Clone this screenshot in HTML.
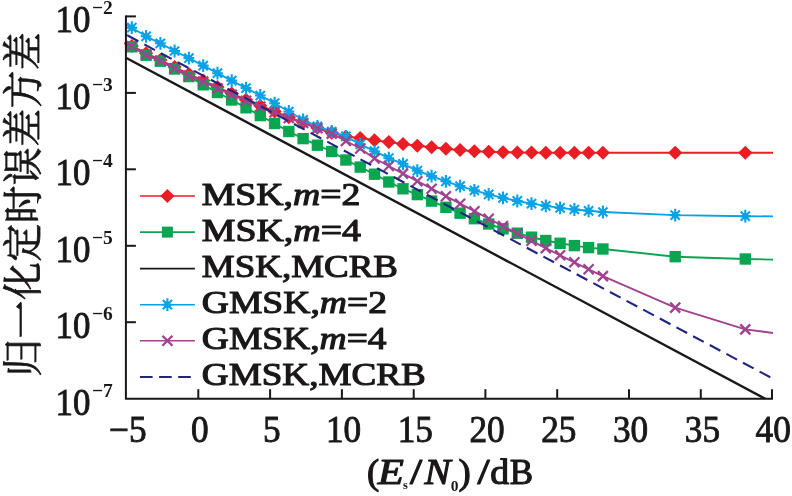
<!DOCTYPE html>
<html><head><meta charset="utf-8"><title>chart</title><style>html,body{margin:0;padding:0;background:#fff}svg{display:block}</style></head><body>
<svg width="792" height="496" viewBox="0 0 792 496">
<rect width="792" height="496" fill="#fff"/>
<defs><clipPath id="cp"><rect x="121.9" y="0" width="652.1" height="399.7"/></clipPath></defs>
<g clip-path="url(#cp)" stroke-linejoin="round">
<path d="M124.2,43.2 L131.8,46.0 L146.1,53.2 L160.4,60.0 L174.6,67.0 L188.9,74.0 L203.2,80.5 L217.5,87.1 L231.7,93.5 L246.0,99.7 L260.3,105.7 L274.6,111.5 L288.8,117.2 L303.1,122.6 L317.4,127.8 L331.7,132.8 L345.9,136.6 L360.2,138.0 L374.5,140.2 L388.8,142.1 L403.0,144.0 L417.3,145.7 L431.6,147.3 L445.9,148.8 L460.1,150.1 L474.4,151.2 L488.7,151.8 L503.0,152.2 L517.3,152.5 L531.5,152.6 L545.8,152.7 L560.1,152.7 L574.4,152.8 L588.6,152.8 L602.9,152.8 L675.2,152.8 L745.3,152.8 L773.0,152.8" stroke="#ea1c24" stroke-width="1.9" fill="none"/>
<path d="M124.7,46.0 L131.8,39.0 L138.9,46.0 L131.8,53.0Z" fill="#ea1c24"/>
<path d="M139.0,53.2 L146.1,46.2 L153.2,53.2 L146.1,60.2Z" fill="#ea1c24"/>
<path d="M153.3,60.0 L160.4,53.0 L167.5,60.0 L160.4,67.0Z" fill="#ea1c24"/>
<path d="M167.5,67.0 L174.6,60.0 L181.7,67.0 L174.6,74.0Z" fill="#ea1c24"/>
<path d="M181.8,74.0 L188.9,67.0 L196.0,74.0 L188.9,81.0Z" fill="#ea1c24"/>
<path d="M196.1,80.5 L203.2,73.5 L210.3,80.5 L203.2,87.5Z" fill="#ea1c24"/>
<path d="M210.4,87.1 L217.5,80.1 L224.6,87.1 L217.5,94.1Z" fill="#ea1c24"/>
<path d="M224.6,93.5 L231.7,86.5 L238.8,93.5 L231.7,100.5Z" fill="#ea1c24"/>
<path d="M238.9,99.7 L246.0,92.7 L253.1,99.7 L246.0,106.7Z" fill="#ea1c24"/>
<path d="M253.2,105.7 L260.3,98.7 L267.4,105.7 L260.3,112.7Z" fill="#ea1c24"/>
<path d="M267.5,111.5 L274.6,104.5 L281.7,111.5 L274.6,118.5Z" fill="#ea1c24"/>
<path d="M281.7,117.2 L288.8,110.2 L295.9,117.2 L288.8,124.2Z" fill="#ea1c24"/>
<path d="M296.0,122.6 L303.1,115.6 L310.2,122.6 L303.1,129.6Z" fill="#ea1c24"/>
<path d="M310.3,127.8 L317.4,120.8 L324.5,127.8 L317.4,134.8Z" fill="#ea1c24"/>
<path d="M324.6,132.8 L331.7,125.8 L338.8,132.8 L331.7,139.8Z" fill="#ea1c24"/>
<path d="M338.8,136.6 L345.9,129.6 L353.0,136.6 L345.9,143.6Z" fill="#ea1c24"/>
<path d="M353.1,138.0 L360.2,131.0 L367.3,138.0 L360.2,145.0Z" fill="#ea1c24"/>
<path d="M367.4,140.2 L374.5,133.2 L381.6,140.2 L374.5,147.2Z" fill="#ea1c24"/>
<path d="M381.7,142.1 L388.8,135.1 L395.9,142.1 L388.8,149.1Z" fill="#ea1c24"/>
<path d="M395.9,144.0 L403.0,137.0 L410.1,144.0 L403.0,151.0Z" fill="#ea1c24"/>
<path d="M410.2,145.7 L417.3,138.7 L424.4,145.7 L417.3,152.7Z" fill="#ea1c24"/>
<path d="M424.5,147.3 L431.6,140.3 L438.7,147.3 L431.6,154.3Z" fill="#ea1c24"/>
<path d="M438.8,148.8 L445.9,141.8 L453.0,148.8 L445.9,155.8Z" fill="#ea1c24"/>
<path d="M453.0,150.1 L460.1,143.1 L467.2,150.1 L460.1,157.1Z" fill="#ea1c24"/>
<path d="M467.3,151.2 L474.4,144.2 L481.5,151.2 L474.4,158.2Z" fill="#ea1c24"/>
<path d="M481.6,151.8 L488.7,144.8 L495.8,151.8 L488.7,158.8Z" fill="#ea1c24"/>
<path d="M495.9,152.2 L503.0,145.2 L510.1,152.2 L503.0,159.2Z" fill="#ea1c24"/>
<path d="M510.2,152.5 L517.3,145.5 L524.4,152.5 L517.3,159.5Z" fill="#ea1c24"/>
<path d="M524.4,152.6 L531.5,145.6 L538.6,152.6 L531.5,159.6Z" fill="#ea1c24"/>
<path d="M538.7,152.7 L545.8,145.7 L552.9,152.7 L545.8,159.7Z" fill="#ea1c24"/>
<path d="M553.0,152.7 L560.1,145.7 L567.2,152.7 L560.1,159.7Z" fill="#ea1c24"/>
<path d="M567.3,152.8 L574.4,145.8 L581.5,152.8 L574.4,159.8Z" fill="#ea1c24"/>
<path d="M581.5,152.8 L588.6,145.8 L595.7,152.8 L588.6,159.8Z" fill="#ea1c24"/>
<path d="M595.8,152.8 L602.9,145.8 L610.0,152.8 L602.9,159.8Z" fill="#ea1c24"/>
<path d="M668.1,152.8 L675.2,145.8 L682.3,152.8 L675.2,159.8Z" fill="#ea1c24"/>
<path d="M738.2,152.8 L745.3,145.8 L752.4,152.8 L745.3,159.8Z" fill="#ea1c24"/>
<path d="M125.9,43.8 L131.8,46.8 L146.1,55.2 L160.4,61.2 L174.6,69.0 L188.9,76.6 L203.2,84.8 L217.5,92.5 L231.7,100.0 L246.0,107.8 L260.3,115.6 L274.6,123.5 L288.8,131.5 L303.1,138.6 L317.4,145.2 L331.7,151.5 L345.9,160.0 L360.2,167.1 L374.5,174.2 L388.8,182.0 L403.0,188.8 L417.3,194.6 L431.6,201.1 L445.9,207.3 L460.1,213.2 L474.4,218.7 L488.7,224.0 L503.0,228.8 L517.3,233.2 L531.5,237.2 L545.8,240.5 L560.1,243.3 L574.4,245.6 L588.6,247.6 L602.9,249.0 L675.2,256.7 L745.3,259.0 L773.0,259.6" stroke="#0aa550" stroke-width="1.9" fill="none"/>
<rect x="126.1" y="41.1" width="11.4" height="11.4" fill="#0aa550"/>
<rect x="140.4" y="49.5" width="11.4" height="11.4" fill="#0aa550"/>
<rect x="154.7" y="55.5" width="11.4" height="11.4" fill="#0aa550"/>
<rect x="168.9" y="63.3" width="11.4" height="11.4" fill="#0aa550"/>
<rect x="183.2" y="70.9" width="11.4" height="11.4" fill="#0aa550"/>
<rect x="197.5" y="79.1" width="11.4" height="11.4" fill="#0aa550"/>
<rect x="211.8" y="86.8" width="11.4" height="11.4" fill="#0aa550"/>
<rect x="226.0" y="94.3" width="11.4" height="11.4" fill="#0aa550"/>
<rect x="240.3" y="102.1" width="11.4" height="11.4" fill="#0aa550"/>
<rect x="254.6" y="109.9" width="11.4" height="11.4" fill="#0aa550"/>
<rect x="268.9" y="117.8" width="11.4" height="11.4" fill="#0aa550"/>
<rect x="283.1" y="125.8" width="11.4" height="11.4" fill="#0aa550"/>
<rect x="297.4" y="132.9" width="11.4" height="11.4" fill="#0aa550"/>
<rect x="311.7" y="139.5" width="11.4" height="11.4" fill="#0aa550"/>
<rect x="326.0" y="145.8" width="11.4" height="11.4" fill="#0aa550"/>
<rect x="340.2" y="154.3" width="11.4" height="11.4" fill="#0aa550"/>
<rect x="354.5" y="161.4" width="11.4" height="11.4" fill="#0aa550"/>
<rect x="368.8" y="168.5" width="11.4" height="11.4" fill="#0aa550"/>
<rect x="383.1" y="176.3" width="11.4" height="11.4" fill="#0aa550"/>
<rect x="397.3" y="183.1" width="11.4" height="11.4" fill="#0aa550"/>
<rect x="411.6" y="188.9" width="11.4" height="11.4" fill="#0aa550"/>
<rect x="425.9" y="195.4" width="11.4" height="11.4" fill="#0aa550"/>
<rect x="440.2" y="201.6" width="11.4" height="11.4" fill="#0aa550"/>
<rect x="454.4" y="207.5" width="11.4" height="11.4" fill="#0aa550"/>
<rect x="468.7" y="213.0" width="11.4" height="11.4" fill="#0aa550"/>
<rect x="483.0" y="218.3" width="11.4" height="11.4" fill="#0aa550"/>
<rect x="497.3" y="223.1" width="11.4" height="11.4" fill="#0aa550"/>
<rect x="511.6" y="227.5" width="11.4" height="11.4" fill="#0aa550"/>
<rect x="525.8" y="231.5" width="11.4" height="11.4" fill="#0aa550"/>
<rect x="540.1" y="234.8" width="11.4" height="11.4" fill="#0aa550"/>
<rect x="554.4" y="237.6" width="11.4" height="11.4" fill="#0aa550"/>
<rect x="568.7" y="239.9" width="11.4" height="11.4" fill="#0aa550"/>
<rect x="582.9" y="241.9" width="11.4" height="11.4" fill="#0aa550"/>
<rect x="597.2" y="243.3" width="11.4" height="11.4" fill="#0aa550"/>
<rect x="669.5" y="251.0" width="11.4" height="11.4" fill="#0aa550"/>
<rect x="739.6" y="253.3" width="11.4" height="11.4" fill="#0aa550"/>
<path d="M125.9,57.7 L765.2,398.7" stroke="#1a1718" stroke-width="2.4" fill="none"/>
<path d="M125.9,24.6 L131.8,27.7 L146.1,36.3 L160.4,43.3 L174.6,51.0 L188.9,58.1 L203.2,65.6 L217.5,73.2 L231.7,80.6 L246.0,88.1 L260.3,95.5 L274.6,103.2 L288.8,111.5 L303.1,119.8 L317.4,126.4 L331.7,131.5 L345.9,136.3 L360.2,144.3 L374.5,151.2 L388.8,158.2 L403.0,163.8 L417.3,170.6 L431.6,176.1 L445.9,181.3 L460.1,186.1 L474.4,190.4 L488.7,194.4 L503.0,197.9 L517.3,201.0 L531.5,203.6 L545.8,205.9 L560.1,207.9 L574.4,209.5 L588.6,210.8 L602.9,212.0 L675.2,215.1 L745.3,216.2 L773.0,216.4" stroke="#0aa2e6" stroke-width="1.9" fill="none"/>
<path d="M126.4,27.7H137.2M131.8,21.3V34.1M127.2,23.1L136.4,32.3M127.2,32.3L136.4,23.1" stroke="#0aa2e6" stroke-width="2.1" fill="none"/><circle cx="131.8" cy="27.7" r="3.1" fill="#0aa2e6"/>
<path d="M140.7,36.3H151.5M146.1,29.9V42.7M141.5,31.7L150.7,40.9M141.5,40.9L150.7,31.7" stroke="#0aa2e6" stroke-width="2.1" fill="none"/><circle cx="146.1" cy="36.3" r="3.1" fill="#0aa2e6"/>
<path d="M155.0,43.3H165.8M160.4,36.9V49.7M155.7,38.7L165.0,47.9M155.7,47.9L165.0,38.7" stroke="#0aa2e6" stroke-width="2.1" fill="none"/><circle cx="160.4" cy="43.3" r="3.1" fill="#0aa2e6"/>
<path d="M169.2,51.0H180.0M174.6,44.6V57.4M170.0,46.4L179.2,55.6M170.0,55.6L179.2,46.4" stroke="#0aa2e6" stroke-width="2.1" fill="none"/><circle cx="174.6" cy="51.0" r="3.1" fill="#0aa2e6"/>
<path d="M183.5,58.1H194.3M188.9,51.7V64.5M184.3,53.5L193.5,62.7M184.3,62.7L193.5,53.5" stroke="#0aa2e6" stroke-width="2.1" fill="none"/><circle cx="188.9" cy="58.1" r="3.1" fill="#0aa2e6"/>
<path d="M197.8,65.6H208.6M203.2,59.2V72.0M198.6,61.0L207.8,70.2M198.6,70.2L207.8,61.0" stroke="#0aa2e6" stroke-width="2.1" fill="none"/><circle cx="203.2" cy="65.6" r="3.1" fill="#0aa2e6"/>
<path d="M212.1,73.2H222.9M217.5,66.8V79.6M212.8,68.6L222.1,77.8M212.8,77.8L222.1,68.6" stroke="#0aa2e6" stroke-width="2.1" fill="none"/><circle cx="217.5" cy="73.2" r="3.1" fill="#0aa2e6"/>
<path d="M226.3,80.6H237.1M231.7,74.2V87.0M227.1,76.0L236.3,85.2M227.1,85.2L236.3,76.0" stroke="#0aa2e6" stroke-width="2.1" fill="none"/><circle cx="231.7" cy="80.6" r="3.1" fill="#0aa2e6"/>
<path d="M240.6,88.1H251.4M246.0,81.7V94.5M241.4,83.5L250.6,92.7M241.4,92.7L250.6,83.5" stroke="#0aa2e6" stroke-width="2.1" fill="none"/><circle cx="246.0" cy="88.1" r="3.1" fill="#0aa2e6"/>
<path d="M254.9,95.5H265.7M260.3,89.1V101.9M255.7,90.9L264.9,100.1M255.7,100.1L264.9,90.9" stroke="#0aa2e6" stroke-width="2.1" fill="none"/><circle cx="260.3" cy="95.5" r="3.1" fill="#0aa2e6"/>
<path d="M269.2,103.2H280.0M274.6,96.8V109.6M270.0,98.6L279.2,107.8M270.0,107.8L279.2,98.6" stroke="#0aa2e6" stroke-width="2.1" fill="none"/><circle cx="274.6" cy="103.2" r="3.1" fill="#0aa2e6"/>
<path d="M283.4,111.5H294.2M288.8,105.1V117.9M284.2,106.9L293.4,116.1M284.2,116.1L293.4,106.9" stroke="#0aa2e6" stroke-width="2.1" fill="none"/><circle cx="288.8" cy="111.5" r="3.1" fill="#0aa2e6"/>
<path d="M297.7,119.8H308.5M303.1,113.4V126.2M298.5,115.2L307.7,124.4M298.5,124.4L307.7,115.2" stroke="#0aa2e6" stroke-width="2.1" fill="none"/><circle cx="303.1" cy="119.8" r="3.1" fill="#0aa2e6"/>
<path d="M312.0,126.4H322.8M317.4,120.0V132.8M312.8,121.8L322.0,131.0M312.8,131.0L322.0,121.8" stroke="#0aa2e6" stroke-width="2.1" fill="none"/><circle cx="317.4" cy="126.4" r="3.1" fill="#0aa2e6"/>
<path d="M326.3,131.5H337.1M331.7,125.1V137.9M327.1,126.9L336.3,136.1M327.1,136.1L336.3,126.9" stroke="#0aa2e6" stroke-width="2.1" fill="none"/><circle cx="331.7" cy="131.5" r="3.1" fill="#0aa2e6"/>
<path d="M340.5,136.3H351.3M345.9,129.9V142.7M341.3,131.7L350.5,140.9M341.3,140.9L350.5,131.7" stroke="#0aa2e6" stroke-width="2.1" fill="none"/><circle cx="345.9" cy="136.3" r="3.1" fill="#0aa2e6"/>
<path d="M354.8,144.3H365.6M360.2,137.9V150.7M355.6,139.7L364.8,148.9M355.6,148.9L364.8,139.7" stroke="#0aa2e6" stroke-width="2.1" fill="none"/><circle cx="360.2" cy="144.3" r="3.1" fill="#0aa2e6"/>
<path d="M369.1,151.2H379.9M374.5,144.8V157.6M369.9,146.6L379.1,155.8M369.9,155.8L379.1,146.6" stroke="#0aa2e6" stroke-width="2.1" fill="none"/><circle cx="374.5" cy="151.2" r="3.1" fill="#0aa2e6"/>
<path d="M383.4,158.2H394.2M388.8,151.8V164.6M384.2,153.6L393.4,162.8M384.2,162.8L393.4,153.6" stroke="#0aa2e6" stroke-width="2.1" fill="none"/><circle cx="388.8" cy="158.2" r="3.1" fill="#0aa2e6"/>
<path d="M397.6,163.8H408.4M403.0,157.4V170.2M398.4,159.2L407.7,168.4M398.4,168.4L407.7,159.2" stroke="#0aa2e6" stroke-width="2.1" fill="none"/><circle cx="403.0" cy="163.8" r="3.1" fill="#0aa2e6"/>
<path d="M411.9,170.6H422.7M417.3,164.2V177.0M412.7,165.9L421.9,175.2M412.7,175.2L421.9,165.9" stroke="#0aa2e6" stroke-width="2.1" fill="none"/><circle cx="417.3" cy="170.6" r="3.1" fill="#0aa2e6"/>
<path d="M426.2,176.1H437.0M431.6,169.7V182.5M427.0,171.5L436.2,180.7M427.0,180.7L436.2,171.5" stroke="#0aa2e6" stroke-width="2.1" fill="none"/><circle cx="431.6" cy="176.1" r="3.1" fill="#0aa2e6"/>
<path d="M440.5,181.3H451.3M445.9,174.9V187.7M441.3,176.7L450.5,185.9M441.3,185.9L450.5,176.7" stroke="#0aa2e6" stroke-width="2.1" fill="none"/><circle cx="445.9" cy="181.3" r="3.1" fill="#0aa2e6"/>
<path d="M454.7,186.1H465.5M460.1,179.7V192.5M455.5,181.5L464.8,190.7M455.5,190.7L464.8,181.5" stroke="#0aa2e6" stroke-width="2.1" fill="none"/><circle cx="460.1" cy="186.1" r="3.1" fill="#0aa2e6"/>
<path d="M469.0,190.4H479.8M474.4,184.0V196.8M469.8,185.8L479.0,195.0M469.8,195.0L479.0,185.8" stroke="#0aa2e6" stroke-width="2.1" fill="none"/><circle cx="474.4" cy="190.4" r="3.1" fill="#0aa2e6"/>
<path d="M483.3,194.4H494.1M488.7,188.0V200.8M484.1,189.8L493.3,199.0M484.1,199.0L493.3,189.8" stroke="#0aa2e6" stroke-width="2.1" fill="none"/><circle cx="488.7" cy="194.4" r="3.1" fill="#0aa2e6"/>
<path d="M497.6,197.9H508.4M503.0,191.5V204.3M498.4,193.3L507.6,202.5M498.4,202.5L507.6,193.3" stroke="#0aa2e6" stroke-width="2.1" fill="none"/><circle cx="503.0" cy="197.9" r="3.1" fill="#0aa2e6"/>
<path d="M511.9,201.0H522.7M517.3,194.6V207.4M512.6,196.3L521.9,205.6M512.6,205.6L521.9,196.3" stroke="#0aa2e6" stroke-width="2.1" fill="none"/><circle cx="517.3" cy="201.0" r="3.1" fill="#0aa2e6"/>
<path d="M526.1,203.6H536.9M531.5,197.2V210.0M526.9,199.0L536.1,208.2M526.9,208.2L536.1,199.0" stroke="#0aa2e6" stroke-width="2.1" fill="none"/><circle cx="531.5" cy="203.6" r="3.1" fill="#0aa2e6"/>
<path d="M540.4,205.9H551.2M545.8,199.5V212.3M541.2,201.3L550.4,210.5M541.2,210.5L550.4,201.3" stroke="#0aa2e6" stroke-width="2.1" fill="none"/><circle cx="545.8" cy="205.9" r="3.1" fill="#0aa2e6"/>
<path d="M554.7,207.9H565.5M560.1,201.5V214.3M555.5,203.2L564.7,212.5M555.5,212.5L564.7,203.2" stroke="#0aa2e6" stroke-width="2.1" fill="none"/><circle cx="560.1" cy="207.9" r="3.1" fill="#0aa2e6"/>
<path d="M569.0,209.5H579.8M574.4,203.1V215.9M569.7,204.9L579.0,214.1M569.7,214.1L579.0,204.9" stroke="#0aa2e6" stroke-width="2.1" fill="none"/><circle cx="574.4" cy="209.5" r="3.1" fill="#0aa2e6"/>
<path d="M583.2,210.8H594.0M588.6,204.4V217.2M584.0,206.2L593.2,215.5M584.0,215.5L593.2,206.2" stroke="#0aa2e6" stroke-width="2.1" fill="none"/><circle cx="588.6" cy="210.8" r="3.1" fill="#0aa2e6"/>
<path d="M597.5,212.0H608.3M602.9,205.6V218.4M598.3,207.4L607.5,216.6M598.3,216.6L607.5,207.4" stroke="#0aa2e6" stroke-width="2.1" fill="none"/><circle cx="602.9" cy="212.0" r="3.1" fill="#0aa2e6"/>
<path d="M669.8,215.1H680.6M675.2,208.7V221.5M670.6,210.5L679.8,219.8M670.6,219.8L679.8,210.5" stroke="#0aa2e6" stroke-width="2.1" fill="none"/><circle cx="675.2" cy="215.1" r="3.1" fill="#0aa2e6"/>
<path d="M739.9,216.2H750.7M745.3,209.8V222.6M740.7,211.6L749.9,220.8M740.7,220.8L749.9,211.6" stroke="#0aa2e6" stroke-width="2.1" fill="none"/><circle cx="745.3" cy="216.2" r="3.1" fill="#0aa2e6"/>
<path d="M125.9,43.3 L131.8,46.3 L146.1,54.8 L160.4,60.7 L174.6,68.3 L188.9,75.8 L203.2,81.6 L217.5,88.5 L231.7,94.8 L246.0,100.7 L260.3,106.8 L274.6,112.3 L288.8,118.0 L303.1,123.0 L317.4,128.2 L331.7,133.6 L345.9,141.0 L360.2,148.5 L374.5,158.5 L388.8,166.0 L403.0,173.6 L417.3,181.2 L431.6,188.7 L445.9,196.2 L460.1,203.7 L474.4,211.2 L488.7,218.7 L503.0,226.1 L517.3,233.5 L531.5,240.8 L545.8,248.1 L560.1,255.3 L574.4,262.3 L588.6,269.3 L602.9,276.1 L675.2,307.6 L745.3,329.4 L773.0,333.0" stroke="#a0428f" stroke-width="1.9" fill="none"/>
<path d="M126.8,41.3L136.8,51.3M126.8,51.3L136.8,41.3" stroke="#a0428f" stroke-width="2.3" fill="none"/>
<path d="M141.1,49.8L151.1,59.8M141.1,59.8L151.1,49.8" stroke="#a0428f" stroke-width="2.3" fill="none"/>
<path d="M155.4,55.7L165.4,65.7M155.4,65.7L165.4,55.7" stroke="#a0428f" stroke-width="2.3" fill="none"/>
<path d="M169.6,63.3L179.6,73.3M169.6,73.3L179.6,63.3" stroke="#a0428f" stroke-width="2.3" fill="none"/>
<path d="M183.9,70.8L193.9,80.8M183.9,80.8L193.9,70.8" stroke="#a0428f" stroke-width="2.3" fill="none"/>
<path d="M198.2,76.6L208.2,86.6M198.2,86.6L208.2,76.6" stroke="#a0428f" stroke-width="2.3" fill="none"/>
<path d="M212.5,83.5L222.5,93.5M212.5,93.5L222.5,83.5" stroke="#a0428f" stroke-width="2.3" fill="none"/>
<path d="M226.7,89.8L236.7,99.8M226.7,99.8L236.7,89.8" stroke="#a0428f" stroke-width="2.3" fill="none"/>
<path d="M241.0,95.7L251.0,105.7M241.0,105.7L251.0,95.7" stroke="#a0428f" stroke-width="2.3" fill="none"/>
<path d="M255.3,101.8L265.3,111.8M255.3,111.8L265.3,101.8" stroke="#a0428f" stroke-width="2.3" fill="none"/>
<path d="M269.6,107.3L279.6,117.3M269.6,117.3L279.6,107.3" stroke="#a0428f" stroke-width="2.3" fill="none"/>
<path d="M283.8,113.0L293.8,123.0M283.8,123.0L293.8,113.0" stroke="#a0428f" stroke-width="2.3" fill="none"/>
<path d="M298.1,118.0L308.1,128.0M298.1,128.0L308.1,118.0" stroke="#a0428f" stroke-width="2.3" fill="none"/>
<path d="M312.4,123.2L322.4,133.2M312.4,133.2L322.4,123.2" stroke="#a0428f" stroke-width="2.3" fill="none"/>
<path d="M326.7,128.6L336.7,138.6M326.7,138.6L336.7,128.6" stroke="#a0428f" stroke-width="2.3" fill="none"/>
<path d="M340.9,136.0L350.9,146.0M340.9,146.0L350.9,136.0" stroke="#a0428f" stroke-width="2.3" fill="none"/>
<path d="M355.2,143.5L365.2,153.5M355.2,153.5L365.2,143.5" stroke="#a0428f" stroke-width="2.3" fill="none"/>
<path d="M369.5,153.5L379.5,163.5M369.5,163.5L379.5,153.5" stroke="#a0428f" stroke-width="2.3" fill="none"/>
<path d="M383.8,161.0L393.8,171.0M383.8,171.0L393.8,161.0" stroke="#a0428f" stroke-width="2.3" fill="none"/>
<path d="M398.0,168.6L408.0,178.6M398.0,178.6L408.0,168.6" stroke="#a0428f" stroke-width="2.3" fill="none"/>
<path d="M412.3,176.2L422.3,186.2M412.3,186.2L422.3,176.2" stroke="#a0428f" stroke-width="2.3" fill="none"/>
<path d="M426.6,183.7L436.6,193.7M426.6,193.7L436.6,183.7" stroke="#a0428f" stroke-width="2.3" fill="none"/>
<path d="M440.9,191.2L450.9,201.2M440.9,201.2L450.9,191.2" stroke="#a0428f" stroke-width="2.3" fill="none"/>
<path d="M455.1,198.7L465.1,208.7M455.1,208.7L465.1,198.7" stroke="#a0428f" stroke-width="2.3" fill="none"/>
<path d="M469.4,206.2L479.4,216.2M469.4,216.2L479.4,206.2" stroke="#a0428f" stroke-width="2.3" fill="none"/>
<path d="M483.7,213.7L493.7,223.7M483.7,223.7L493.7,213.7" stroke="#a0428f" stroke-width="2.3" fill="none"/>
<path d="M498.0,221.1L508.0,231.1M498.0,231.1L508.0,221.1" stroke="#a0428f" stroke-width="2.3" fill="none"/>
<path d="M512.3,228.5L522.3,238.5M512.3,238.5L522.3,228.5" stroke="#a0428f" stroke-width="2.3" fill="none"/>
<path d="M526.5,235.8L536.5,245.8M526.5,245.8L536.5,235.8" stroke="#a0428f" stroke-width="2.3" fill="none"/>
<path d="M540.8,243.1L550.8,253.1M540.8,253.1L550.8,243.1" stroke="#a0428f" stroke-width="2.3" fill="none"/>
<path d="M555.1,250.3L565.1,260.3M555.1,260.3L565.1,250.3" stroke="#a0428f" stroke-width="2.3" fill="none"/>
<path d="M569.4,257.3L579.4,267.3M569.4,267.3L579.4,257.3" stroke="#a0428f" stroke-width="2.3" fill="none"/>
<path d="M583.6,264.3L593.6,274.3M583.6,274.3L593.6,264.3" stroke="#a0428f" stroke-width="2.3" fill="none"/>
<path d="M597.9,271.1L607.9,281.1M597.9,281.1L607.9,271.1" stroke="#a0428f" stroke-width="2.3" fill="none"/>
<path d="M670.2,302.6L680.2,312.6M670.2,312.6L680.2,302.6" stroke="#a0428f" stroke-width="2.3" fill="none"/>
<path d="M740.3,324.4L750.3,334.4M740.3,334.4L750.3,324.4" stroke="#a0428f" stroke-width="2.3" fill="none"/>
<path d="M125.9,34.6 L771.5,377.9" stroke="#20257e" stroke-width="2.1" stroke-dasharray="12.1,6.735" stroke-dashoffset="-2.0" fill="none"/>
<path d="M125.9,34.6 l1.8,0.96" stroke="#20257e" stroke-width="2.1" fill="none"/>
</g>
<path d="M125.9,15.399999999999999 V398.7 H773.0" stroke="#1a1718" stroke-width="2" fill="none"/>
<path d="M125.9,16.4 h10" stroke="#1a1718" stroke-width="2"/>
<path d="M125.9,92.9 h10" stroke="#1a1718" stroke-width="2"/>
<path d="M125.9,169.3 h10" stroke="#1a1718" stroke-width="2"/>
<path d="M125.9,245.8 h10" stroke="#1a1718" stroke-width="2"/>
<path d="M125.9,322.2 h10" stroke="#1a1718" stroke-width="2"/>
<path d="M198.3,398.7 v-9.5" stroke="#1a1718" stroke-width="2"/>
<path d="M270.1,398.7 v-9.5" stroke="#1a1718" stroke-width="2"/>
<path d="M341.9,398.7 v-9.5" stroke="#1a1718" stroke-width="2"/>
<path d="M413.7,398.7 v-9.5" stroke="#1a1718" stroke-width="2"/>
<path d="M485.4,398.7 v-9.5" stroke="#1a1718" stroke-width="2"/>
<path d="M557.2,398.7 v-9.5" stroke="#1a1718" stroke-width="2"/>
<path d="M629.0,398.7 v-9.5" stroke="#1a1718" stroke-width="2"/>
<path d="M700.8,398.7 v-9.5" stroke="#1a1718" stroke-width="2"/>
<path d="M772.0,398.7 v-9.5" stroke="#1a1718" stroke-width="2"/>
<text transform="translate(55.5,32.2) scale(0.93,1)" font-family="Liberation Serif, serif" font-size="37.5" fill="#1a1718" stroke="#1a1718" stroke-width="0.9">10<tspan x="39.25" dy="-17.8" font-size="19.5" font-weight="bold" stroke="none" textLength="22.44" lengthAdjust="spacingAndGlyphs">−2</tspan></text>
<text transform="translate(55.5,108.7) scale(0.93,1)" font-family="Liberation Serif, serif" font-size="37.5" fill="#1a1718" stroke="#1a1718" stroke-width="0.9">10<tspan x="39.25" dy="-17.8" font-size="19.5" font-weight="bold" stroke="none" textLength="22.44" lengthAdjust="spacingAndGlyphs">−3</tspan></text>
<text transform="translate(55.5,185.1) scale(0.93,1)" font-family="Liberation Serif, serif" font-size="37.5" fill="#1a1718" stroke="#1a1718" stroke-width="0.9">10<tspan x="39.25" dy="-17.8" font-size="19.5" font-weight="bold" stroke="none" textLength="22.44" lengthAdjust="spacingAndGlyphs">−4</tspan></text>
<text transform="translate(55.5,261.6) scale(0.93,1)" font-family="Liberation Serif, serif" font-size="37.5" fill="#1a1718" stroke="#1a1718" stroke-width="0.9">10<tspan x="39.25" dy="-17.8" font-size="19.5" font-weight="bold" stroke="none" textLength="22.44" lengthAdjust="spacingAndGlyphs">−5</tspan></text>
<text transform="translate(55.5,338.0) scale(0.93,1)" font-family="Liberation Serif, serif" font-size="37.5" fill="#1a1718" stroke="#1a1718" stroke-width="0.9">10<tspan x="39.25" dy="-17.8" font-size="19.5" font-weight="bold" stroke="none" textLength="22.44" lengthAdjust="spacingAndGlyphs">−6</tspan></text>
<text transform="translate(55.5,414.5) scale(0.93,1)" font-family="Liberation Serif, serif" font-size="37.5" fill="#1a1718" stroke="#1a1718" stroke-width="0.9">10<tspan x="39.25" dy="-17.8" font-size="19.5" font-weight="bold" stroke="none" textLength="22.44" lengthAdjust="spacingAndGlyphs">−7</tspan></text>
<text transform="translate(127.8,441.5) scale(0.94,1)" text-anchor="middle" font-family="Liberation Serif, serif" font-size="37.5" fill="#1a1718" stroke="#1a1718" stroke-width="0.9">−5</text>
<text transform="translate(199.9,441.5) scale(0.94,1)" text-anchor="middle" font-family="Liberation Serif, serif" font-size="37.5" fill="#1a1718" stroke="#1a1718" stroke-width="0.9">0</text>
<text transform="translate(271.7,441.5) scale(0.94,1)" text-anchor="middle" font-family="Liberation Serif, serif" font-size="37.5" fill="#1a1718" stroke="#1a1718" stroke-width="0.9">5</text>
<text transform="translate(343.5,441.5) scale(0.94,1)" text-anchor="middle" font-family="Liberation Serif, serif" font-size="37.5" fill="#1a1718" stroke="#1a1718" stroke-width="0.9">10</text>
<text transform="translate(415.3,441.5) scale(0.94,1)" text-anchor="middle" font-family="Liberation Serif, serif" font-size="37.5" fill="#1a1718" stroke="#1a1718" stroke-width="0.9">15</text>
<text transform="translate(487.0,441.5) scale(0.94,1)" text-anchor="middle" font-family="Liberation Serif, serif" font-size="37.5" fill="#1a1718" stroke="#1a1718" stroke-width="0.9">20</text>
<text transform="translate(558.8,441.5) scale(0.94,1)" text-anchor="middle" font-family="Liberation Serif, serif" font-size="37.5" fill="#1a1718" stroke="#1a1718" stroke-width="0.9">25</text>
<text transform="translate(630.6,441.5) scale(0.94,1)" text-anchor="middle" font-family="Liberation Serif, serif" font-size="37.5" fill="#1a1718" stroke="#1a1718" stroke-width="0.9">30</text>
<text transform="translate(702.4,441.5) scale(0.94,1)" text-anchor="middle" font-family="Liberation Serif, serif" font-size="37.5" fill="#1a1718" stroke="#1a1718" stroke-width="0.9">35</text>
<text transform="translate(773.2,441.5) scale(0.94,1)" text-anchor="middle" font-family="Liberation Serif, serif" font-size="37.5" fill="#1a1718" stroke="#1a1718" stroke-width="0.9">40</text>
<text font-family="Liberation Serif, serif" fill="#1a1718" stroke="#1a1718" stroke-linejoin="round"><tspan x="367.0" y="484.2" font-size="35" font-style="normal" font-weight="normal" stroke-width="1.1" textLength="12.24" lengthAdjust="spacingAndGlyphs">(</tspan><tspan x="377.8" y="484.2" font-size="35" font-style="italic" font-weight="normal" stroke-width="1.1" textLength="26.09" lengthAdjust="spacingAndGlyphs">E</tspan><tspan x="403.0" y="489.3" font-size="12.5" font-style="normal" font-weight="bold" stroke-width="0" textLength="4.86" lengthAdjust="spacingAndGlyphs">s</tspan><tspan x="410.0" y="484.2" font-size="35" font-style="normal" font-weight="normal" stroke-width="1.1" textLength="12.16" lengthAdjust="spacingAndGlyphs">/</tspan><tspan x="424.5" y="484.2" font-size="35" font-style="italic" font-weight="normal" stroke-width="1.1" textLength="26.15" lengthAdjust="spacingAndGlyphs">N</tspan><tspan x="450.8" y="490.6" font-size="15.5" font-style="normal" font-weight="bold" stroke-width="0" textLength="7.75" lengthAdjust="spacingAndGlyphs">0</tspan><tspan x="458.6" y="484.2" font-size="35" font-style="normal" font-weight="normal" stroke-width="1.1" textLength="12.24" lengthAdjust="spacingAndGlyphs">)</tspan><tspan> </tspan><tspan x="477.5" y="484.2" font-size="35" font-style="normal" font-weight="normal" stroke-width="1.1" textLength="12.16" lengthAdjust="spacingAndGlyphs">/</tspan><tspan x="490.3" y="484.2" font-size="35" font-style="normal" font-weight="normal" stroke-width="1.1" textLength="18.90" lengthAdjust="spacingAndGlyphs">d</tspan><tspan x="509.8" y="484.2" font-size="35" font-style="normal" font-weight="normal" stroke-width="1.1" textLength="23.35" lengthAdjust="spacingAndGlyphs">B</tspan></text>
<text transform="translate(37,204.5) rotate(-90) scale(1,1.06)" text-anchor="middle" font-family="Liberation Serif, Noto Serif CJK SC, serif" font-size="37.5" textLength="344" lengthAdjust="spacing" fill="#1a1718" stroke="#1a1718" stroke-width="0.8">归一化定时误差方差</text>
<path d="M140.0,196.0 H194.9" stroke="#ea1c24" stroke-width="1.6" fill="none"/>
<path d="M160.3,196.0 L167.4,189.0 L174.5,196.0 L167.4,203.0Z" fill="#ea1c24"/>
<text transform="translate(201.8,205.0) scale(1,0.875)" font-family="Liberation Serif, serif" font-size="37.2" textLength="158.6" lengthAdjust="spacingAndGlyphs" fill="#1a1718" stroke="#1a1718" stroke-width="1.3" stroke-linejoin="round">MSK,<tspan font-style="italic">m</tspan>=2</text>
<path d="M140.0,232.1 H194.9" stroke="#0aa550" stroke-width="1.6" fill="none"/>
<rect x="161.9" y="226.6" width="11.0" height="11.0" fill="#0aa550"/>
<text transform="translate(201.8,240.9) scale(1,0.875)" font-family="Liberation Serif, serif" font-size="37.2" textLength="159.2" lengthAdjust="spacingAndGlyphs" fill="#1a1718" stroke="#1a1718" stroke-width="1.3" stroke-linejoin="round">MSK,<tspan font-style="italic">m</tspan>=4</text>
<path d="M140.0,268.7 H194.9" stroke="#1a1718" stroke-width="1.7" fill="none"/>
<text transform="translate(201.8,276.8) scale(1,0.875)" font-family="Liberation Serif, serif" font-size="37.2" textLength="196.2" lengthAdjust="spacingAndGlyphs" fill="#1a1718" stroke="#1a1718" stroke-width="1.3" stroke-linejoin="round">MSK,MCRB</text>
<path d="M140.0,304.7 H194.9" stroke="#0aa2e6" stroke-width="1.6" fill="none"/>
<path d="M162.4,304.7H172.4M167.4,298.3V311.1M162.8,300.1L172.0,309.3M162.8,309.3L172.0,300.1" stroke="#0aa2e6" stroke-width="2.1" fill="none"/><circle cx="167.4" cy="304.7" r="3.1" fill="#0aa2e6"/>
<text transform="translate(201.8,312.7) scale(1,0.875)" font-family="Liberation Serif, serif" font-size="37.2" textLength="185.2" lengthAdjust="spacingAndGlyphs" fill="#1a1718" stroke="#1a1718" stroke-width="1.3" stroke-linejoin="round">GMSK,<tspan font-style="italic">m</tspan>=2</text>
<path d="M140.0,340.8 H194.9" stroke="#a0428f" stroke-width="1.6" fill="none"/>
<path d="M162.4,335.8L172.4,345.8M162.4,345.8L172.4,335.8" stroke="#a0428f" stroke-width="2.3" fill="none"/>
<text transform="translate(201.8,348.6) scale(1,0.875)" font-family="Liberation Serif, serif" font-size="37.2" textLength="184.8" lengthAdjust="spacingAndGlyphs" fill="#1a1718" stroke="#1a1718" stroke-width="1.3" stroke-linejoin="round">GMSK,<tspan font-style="italic">m</tspan>=4</text>
<path d="M140.0,377.1 H194.9" stroke="#20257e" stroke-width="2" stroke-dasharray="12.6,6.5" fill="none"/>
<text transform="translate(201.8,384.5) scale(1,0.875)" font-family="Liberation Serif, serif" font-size="37.2" textLength="224.0" lengthAdjust="spacingAndGlyphs" fill="#1a1718" stroke="#1a1718" stroke-width="1.3" stroke-linejoin="round">GMSK,MCRB</text>
</svg>
</body></html>
